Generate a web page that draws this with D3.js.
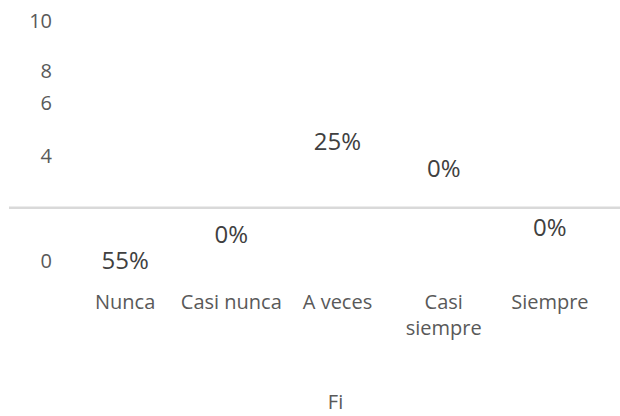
<!DOCTYPE html>
<html>
<head>
<meta charset="utf-8">
<script src="https://cdn.jsdelivr.net/npm/d3@7"></script>
<style>
	body { margin: 0; background: #fff; }
	text { font-family: "Open Sans", sans-serif; }
</style>
</head>
<body>
<svg width="620" height="416"></svg>
<script>
// chart values
var categories = ["Nunca", "Casi nunca", "A veces", "Casi siempre", "Siempre"];
var percents = [55, 0, 25, 0, 0];
// axis value where each percent label ended up
var labelAt = [0, 1, 4.5, 3.5, 1.25];
var yTicks = [0, 4, 6, 8, 10];
var gridAt = [2];
var title = "Fi";

function drawChart() {
	var svg = d3.select("svg");

	var x = d3.scaleBand().domain(categories).range([72, 603]);
	// uneven axis spacing, as in the picture
	var y = d3.scaleLinear().domain([0, 4, 6, 8, 10]).range([260.5, 155, 102.5, 70, 20.5]);

	// grid line
	svg.selectAll(".grid")
		.data(gridAt)
		.enter()
		.append("line")
		.attr("x1", 9)
		.attr("x2", 620)
		.attr("y1", function (d) { return y(d) })
		.attr("y2", function (d) { return y(d) })
		.attr("stroke", "#d9d9d9")
		.attr("stroke-width", 2.5);

	// y axis
	var gy = svg.append("g")
		.attr("transform", "translate(52,0)")
		.call(d3.axisLeft(y).tickValues(yTicks).tickSize(0).tickPadding(0));
	gy.select(".domain").remove();
	gy.selectAll("text")
		.attr("dy", "0.357em")
		.attr("fill", "#595959")
		.style("font-size", "20px")
		.style("font-family", "'Open Sans', sans-serif");

	// x axis
	var gx = svg.append("g")
		.attr("transform", "translate(0,302)")
		.call(d3.axisBottom(x).tickSize(0).tickPadding(0));
	gx.select(".domain").remove();
	gx.selectAll("text")
		.attr("y", 0)
		.attr("dy", "0.357em")
		.attr("fill", "#595959")
		.style("font-size", "20px")
		.style("font-family", "'Open Sans', sans-serif")
		.call(wrap, x.bandwidth());

	// percent labels
	svg.selectAll(".pct")
		.data(percents)
		.enter()
		.append("text")
		.attr("x", function (d, i) { return x(categories[i]) + x.bandwidth() / 2 })
		.attr("y", function (d, i) { return y(labelAt[i]) })
		.attr("dy", "0.357em")
		.attr("text-anchor", "middle")
		.attr("fill", "#404040")
		.style("font-size", "24px")
		.text(function (d) { return d + "%" });

	// title at the bottom
	svg.append("text")
		.attr("x", (x.range()[0] + x.range()[1]) / 2 - 2)
		.attr("y", 402)
		.attr("dy", "0.357em")
		.attr("text-anchor", "middle")
		.attr("fill", "#595959")
		.style("font-size", "20px")
		.text(title);
}

function wrap(texts, width) {
	texts.each(function () {
		var text = d3.select(this),
			words = text.text().split(" "),
			dy = text.attr("dy");
		if (text.node().getComputedTextLength() <= width) return;
		text.text(null);
		words.forEach(function (w, i) {
			text.append("tspan")
				.attr("x", 0)
				.attr("dy", i == 0 ? dy : "1.3em")
				.text(w);
		});
	});
}

drawChart();
</script>
</body>
</html>
